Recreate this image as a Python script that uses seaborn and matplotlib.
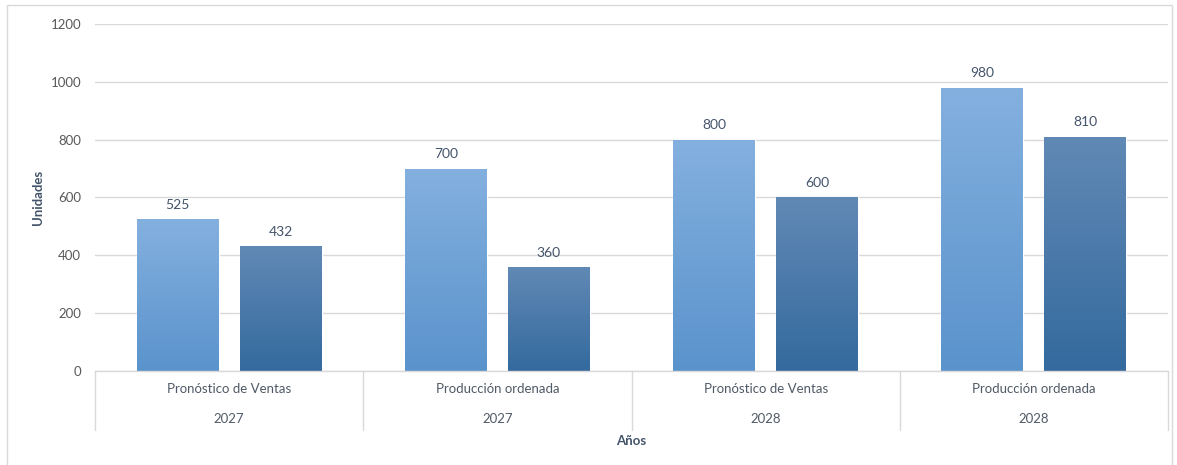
import numpy as np
import pandas as pd
import matplotlib
matplotlib.use("Agg")
import matplotlib.pyplot as plt
from matplotlib.colors import LinearSegmentedColormap
from matplotlib.patches import Rectangle
import seaborn as sns

# Chart data
categorias = ["Pronóstico de Ventas", "Producción ordenada", "Pronóstico de Ventas", "Producción ordenada"]
anios = ["2027", "2027", "2028", "2028"]
serie_a = [525, 700, 800, 980]
serie_b = [432, 360, 600, 810]
y_ticks = [0, 200, 400, 600, 800, 1000, 1200]

grupos = [f"{c}|{a}" for c, a in zip(categorias, anios)]
df = pd.DataFrame({
    "grupo": grupos * 2,
    "serie": ["A"] * 4 + ["B"] * 4,
    "valor": serie_a + serie_b,
})

sns.set_theme(style="white")
plt.rcParams["font.family"] = ["Lato", "DejaVu Sans"]

text_col = "#44546A"
label_col = "#505A66"
grid_col = "#D9D9D9"

fig = plt.figure(figsize=(11.77, 4.65), dpi=100)
ax = fig.add_axes([95 / 1177, 1 - 371 / 465, (1168 - 95) / 1177, (371 - 24) / 465])

sns.barplot(data=df, x="grupo", y="valor", hue="serie", order=grupos,
            palette=["#6CA3DA", "#457CB1"], width=0.768, gap=0.205,
            legend=False, ax=ax, saturation=1)

ax.set_ylim(0, 1200)
ax.set_xlim(-0.5, 3.5)
ax.set_yticks(y_ticks)
ax.set_yticklabels([str(t) for t in y_ticks], color="#595959", fontsize=9.5)
ax.tick_params(axis="y", length=0, pad=10)
ax.set_xticks([])
ax.set_xlabel("")
ax.set_ylabel("")
ax.grid(axis="y", color=grid_col, linewidth=1)
ax.set_axisbelow(True)
for s in ["top", "right", "left"]:
    ax.spines[s].set_visible(False)
ax.spines["bottom"].set_color(grid_col)
ax.spines["bottom"].set_linewidth(1)

# Vertical gradient fill for each bar
grad_light = LinearSegmentedColormap.from_list("light", ["#5A93CC", "#84B0DF"])
grad_dark = LinearSegmentedColormap.from_list("dark", ["#346A9E", "#6189B5"])
ramp = np.linspace(0, 1, 256).reshape(-1, 1)
bars = list(ax.patches)
for i, patch in enumerate(bars):
    cmap = grad_light if i < 4 else grad_dark
    x0 = patch.get_x()
    w = patch.get_width()
    h = patch.get_height()
    im = ax.imshow(ramp, cmap=cmap, origin="lower", aspect="auto",
                   extent=[x0, x0 + w, 0, h], zorder=patch.get_zorder() + 0.1)
    im.set_clip_path(patch)
    ax.annotate(f"{h:.0f}", (x0 + w / 2, h), xytext=(0, 6), textcoords="offset points",
                ha="center", va="bottom", fontsize=10, color=text_col)

ax.set_xlim(-0.5, 3.5)
ax.set_ylim(0, 1200)

# Two-level category axis
trans = ax.get_xaxis_transform()
for x in np.arange(-0.5, 4.0, 1.0):
    ax.plot([x, x], [0, -0.17], transform=trans, color=grid_col, linewidth=1, clip_on=False)
for i, (c, a) in enumerate(zip(categorias, anios)):
    ax.text(i, -0.052, c, transform=trans, ha="center", va="center", fontsize=9.5, color=label_col)
    ax.text(i, -0.138, a, transform=trans, ha="center", va="center", fontsize=9.5, color=label_col)

fig.text(631.5 / 1177, 1 - 441 / 465, "Años", ha="center", va="center",
         fontsize=9.5, fontweight="bold", color=text_col)
fig.text(38 / 1177, 1 - 197 / 465, "Unidades", ha="center", va="center", rotation=90,
         fontsize=9.5, fontweight="bold", color=text_col)

# Chart area border
fig.patches.append(Rectangle((7 / 1177, -0.01), (1172 - 7) / 1177, 1 - 5 / 465 + 0.01,
                             transform=fig.transFigure, fill=False,
                             edgecolor="#D9D9D9", linewidth=1))

fig.savefig("out.png", dpi=100)
